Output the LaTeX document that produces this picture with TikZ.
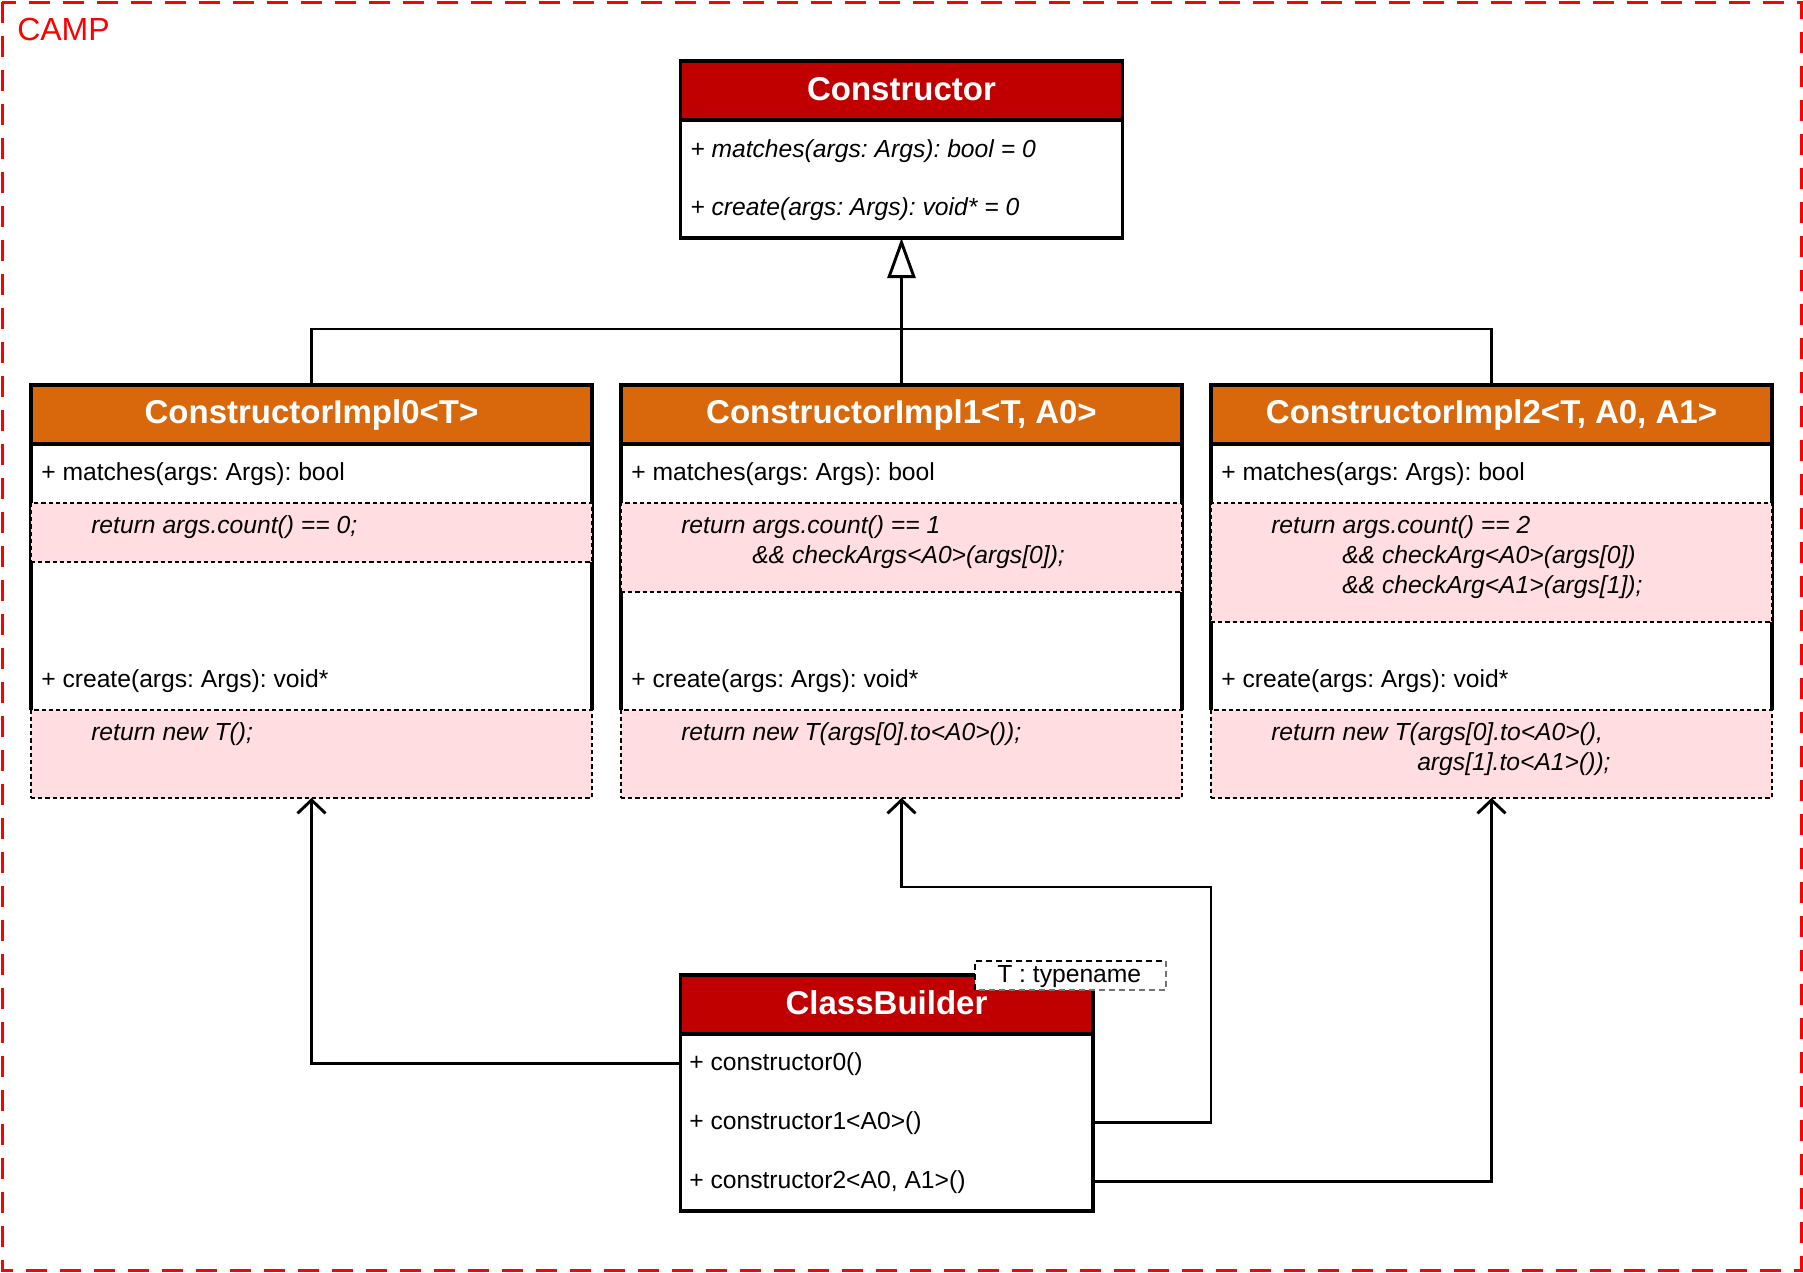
\documentclass[tikz,border=0pt]{standalone}
\usepackage{fontspec}
\setmainfont{Liberation Sans}
\usetikzlibrary{arrows.meta,fit}
\frenchspacing
\definecolor{hdrred}{RGB}{192,0,0}
\definecolor{hdrorange}{RGB}{217,104,13}
\definecolor{codepink}{RGB}{255,221,224}
\definecolor{camp}{RGB}{255,0,0}
\tikzset{
  part/.style={inner sep=0pt, outer sep=0pt},
  redhead/.style={part, fill=hdrred, draw=black, line width=2.3pt},
  orangehead/.style={part, fill=hdrorange, draw=black, line width=2.3pt},
  plainbody/.style={part, fill=white, draw=black, line width=2.3pt},
  codebox/.style={part, fill=codepink, draw=black, line width=1.7pt, dash pattern=on 3.2pt off 2.2pt},
  sideline/.style={draw=black, line width=2.3pt},
  headtext/.style={inner sep=0pt, anchor=base, text=white, font=\fontsize{24.75pt}{30pt}\selectfont\bfseries},
  member/.style={inner sep=0pt, anchor=base west, font=\fontsize{18.5pt}{22pt}\selectfont},
  italicmember/.style={inner sep=0pt, anchor=base west, font=\fontsize{18.5pt}{22pt}\selectfont\itshape},
  conn/.style={draw=black, line width=2.2pt},
  realize/.style={conn, -{Straight Barb[length=10pt, width=21pt]}},
  inherit/.style={conn, -{Triangle[open, length=30pt, width=21pt, fill=white]}},
  campframe/.style={draw=camp, line width=2.25pt, dash pattern=on 15.75pt off 9.75pt},
  tparam/.style={draw=black, line width=1.1pt, dash pattern=on 4.5pt off 3pt},
}
\begin{document}
\begin{tikzpicture}[x=0.75pt, y=-0.75pt]
\useasboundingbox (0,0) rectangle (1803,1272);

% package frame
\draw[campframe] (2,2) rectangle (1801,1270);
\node[inner sep=0pt, anchor=base west, text=camp, font=\fontsize{24pt}{28pt}\selectfont] (camp) at (17,40) {CAMP};

% Constructor
\node[plainbody, fit={(680.5,120)(1122.5,238)}] (ctorBody) {};
\node[redhead, fit={(680.5,61)(1122.5,120)}] (ctorHead) {};
\node[headtext] (ctorTitle) at (901.5,100) {Constructor};
\node[italicmember] (ctorM) at (690,157) {+ matches(args: Args): bool = 0};
\node[italicmember] (ctorC) at (690,215) {+ create(args: Args): void* = 0};

% ConstructorImpl boxes
\foreach \L/\n/\pb in {31/0/562,621/1/592,1211/2/622}{
  \pgfmathsetmacro\R{\L+561}
  \node[part, fit={(\L,444)(\R,\pb)}] (m\n) {};
  \draw[sideline] (m\n.north west) -- (m\n.south west) (m\n.north east) -- (m\n.south east);
  \node[part, fit={(\L,\pb)(\R,710)}] (c\n) {};
  \draw[sideline] (c\n.north west) -- (c\n.south west) (c\n.north east) -- (c\n.south east);
  \node[codebox, fit={(\L,503)(\R,\pb)}] (p\n) {};
  \node[codebox, fit={(\L,710)(\R,798)}] (q\n) {};
  \node[orangehead, fit={(\L,385)(\R,444)}] (h\n) {};
}

% Impl0 texts
\node[headtext] (t0) at (311.5,423) {ConstructorImpl0<T>};
\node[member] (m0t) at (41,480) {+ matches(args: Args): bool};
\node[italicmember] (p0a) at (91,533) {return args.count() == 0;};
\node[member] (c0t) at (41,687) {+ create(args: Args): void*};
\node[italicmember] (q0a) at (91,740) {return new T();};

% Impl1 texts
\node[headtext] (t1) at (901.5,423) {ConstructorImpl1<T, A0>};
\node[member] (m1t) at (631,480) {+ matches(args: Args): bool};
\node[italicmember] (p1a) at (681,533) {return args.count() == 1};
\node[italicmember] (p1b) at (752,563) {\&\& checkArgs<A0>(args[0]);};
\node[member] (c1t) at (631,687) {+ create(args: Args): void*};
\node[italicmember] (q1a) at (681,740) {return new T(args[0].to<A0>());};

% Impl2 texts
\node[headtext] (t2) at (1491.5,423) {ConstructorImpl2<T, A0, A1>};
\node[member] (m2t) at (1221,480) {+ matches(args: Args): bool};
\node[italicmember] (p2a) at (1271,533) {return args.count() == 2};
\node[italicmember] (p2b) at (1342,563) {\&\& checkArg<A0>(args[0])};
\node[italicmember] (p2c) at (1342,593) {\&\& checkArg<A1>(args[1]);};
\node[member] (c2t) at (1221,687) {+ create(args: Args): void*};
\node[italicmember] (q2a) at (1271,740) {return new T(args[0].to<A0>(),};
\node[italicmember] (q2b) at (1417,770) {args[1].to<A1>());};

% ClassBuilder
\node[plainbody, fit={(680.5,1034)(1093,1211)}] (cbBody) {};
\node[redhead, fit={(680.5,975)(1093,1034)}] (cbHead) {};
\node[headtext] (cbTitle) at (886.5,1014) {ClassBuilder};
\node[member] (r0) at (689,1070) {+ constructor0()};
\node[member] (r1) at (689,1129) {+ constructor1<A0>()};
\node[member] (r2) at (689,1188) {+ constructor2<A0, A1>()};

% template parameter
\node[part, fill=white, fit={(975,961)(1166,990)}] (tbox) {};
\draw[tparam] (tbox.south west) -- (tbox.north west) -- (tbox.north east);
\draw[tparam, draw=black!55] (tbox.north east) -- (tbox.south east) -- (tbox.south west);
\node[member] (ttext) at (997,982) {T : typename};

% inheritance
\coordinate (bus) at (901.5,329);
\draw[conn] (h0.north) |- (bus) -| (h2.north);
\draw[inherit] (h1.north) -- (ctorBody.south);

% dependencies from ClassBuilder
\coordinate (k1) at (1211,887);
\draw[realize] (cbBody.west |- r0.center) -| (q0.south);
\draw[realize] (cbBody.east |- r1.center) -| (k1) -| (q1.south);
\draw[realize] (cbBody.east |- r2.center) -| (q2.south);
\end{tikzpicture}
\end{document}
